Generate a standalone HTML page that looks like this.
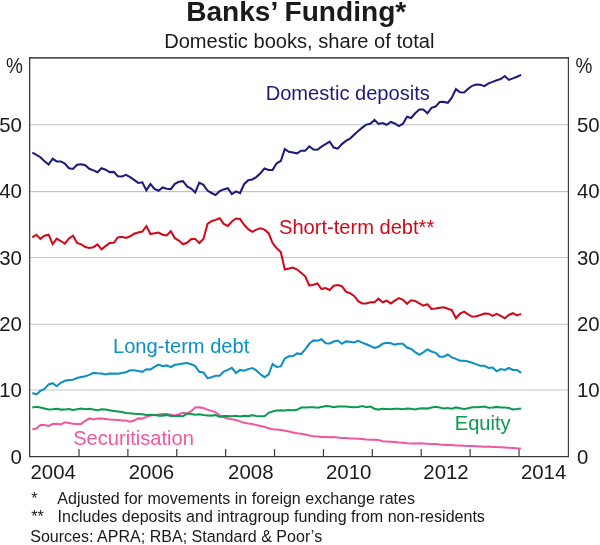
<!DOCTYPE html>
<html><head><meta charset="utf-8"><title>Banks’ Funding</title>
<style>html,body{margin:0;padding:0;background:#fff}body{width:600px;height:545px;overflow:hidden}svg{display:block}text{font-family:"Liberation Sans",sans-serif;fill:#1a1a1a}.ax{font-size:20.4px}.fn{font-size:16.06px}.lb{font-size:20.1px}</style></head><body>
<svg style="will-change:transform" width="600" height="545" viewBox="0 0 600 545">
<rect width="600" height="545" fill="#fff"/>
<line x1="29.8" x2="568.2" y1="124.7" y2="124.7" stroke="#c2c4c6" stroke-width="1.1"/>
<line x1="29.8" x2="568.2" y1="191.6" y2="191.6" stroke="#c2c4c6" stroke-width="1.1"/>
<line x1="29.8" x2="568.2" y1="257.45" y2="257.45" stroke="#c2c4c6" stroke-width="1.1"/>
<line x1="29.8" x2="568.2" y1="324.25" y2="324.25" stroke="#c2c4c6" stroke-width="1.1"/>
<line x1="29.8" x2="568.2" y1="390.0" y2="390.0" stroke="#c2c4c6" stroke-width="1.1"/>
<line x1="78.99" x2="78.99" y1="449.1" y2="456.6" stroke="#3b3939" stroke-width="1.2"/>
<line x1="127.88" x2="127.88" y1="449.1" y2="456.6" stroke="#3b3939" stroke-width="1.2"/>
<line x1="176.77" x2="176.77" y1="449.1" y2="456.6" stroke="#3b3939" stroke-width="1.2"/>
<line x1="225.66" x2="225.66" y1="449.1" y2="456.6" stroke="#3b3939" stroke-width="1.2"/>
<line x1="274.55" x2="274.55" y1="449.1" y2="456.6" stroke="#3b3939" stroke-width="1.2"/>
<line x1="323.44" x2="323.44" y1="449.1" y2="456.6" stroke="#3b3939" stroke-width="1.2"/>
<line x1="372.33" x2="372.33" y1="449.1" y2="456.6" stroke="#3b3939" stroke-width="1.2"/>
<line x1="421.22" x2="421.22" y1="449.1" y2="456.6" stroke="#3b3939" stroke-width="1.2"/>
<line x1="470.11" x2="470.11" y1="449.1" y2="456.6" stroke="#3b3939" stroke-width="1.2"/>
<line x1="519.00" x2="519.00" y1="449.1" y2="456.6" stroke="#3b3939" stroke-width="1.2"/>
<polyline fill="none" stroke="#f0579f" stroke-width="2.05" stroke-linejoin="miter" stroke-miterlimit="2.5" stroke-linecap="butt" points="32.3,429.3 36.4,428.5 40.4,424.9 44.5,424.9 48.6,426.0 52.7,424.1 56.7,423.8 60.8,424.5 64.9,422.3 69.0,423.0 73.0,423.8 77.1,423.9 81.2,423.9 85.3,420.8 89.3,418.4 93.4,419.4 97.5,418.6 101.5,418.6 105.6,419.0 109.7,419.4 113.8,419.7 117.8,420.1 121.9,420.5 126.0,420.6 130.1,421.8 134.1,420.5 138.2,418.4 142.3,418.7 146.4,416.9 150.4,415.6 154.5,414.9 158.6,414.5 162.6,414.1 166.7,414.0 170.8,414.7 174.9,415.4 178.9,414.3 183.0,412.9 187.1,413.4 191.2,411.2 195.2,407.6 199.3,407.4 203.4,408.1 207.5,409.6 211.5,410.9 215.6,412.3 219.7,415.4 223.7,417.2 227.8,418.4 231.9,419.3 236.0,420.0 240.0,421.4 244.1,422.7 248.2,423.6 252.3,424.1 256.3,425.1 260.4,426.0 264.5,427.1 268.6,428.2 272.6,429.3 276.7,429.4 280.8,430.0 284.8,430.7 288.9,431.6 293.0,432.4 297.1,433.3 301.1,433.7 305.2,434.6 309.3,435.5 313.4,436.2 317.4,436.6 321.5,437.0 325.6,437.1 329.7,437.2 333.7,437.1 337.8,437.5 341.9,437.9 345.9,438.1 350.0,438.4 354.1,438.6 358.2,438.8 362.2,439.0 366.3,439.4 370.4,439.7 374.5,439.7 378.5,440.1 382.6,441.2 386.7,441.4 390.8,441.7 394.8,442.1 398.9,442.5 403.0,442.8 407.0,443.2 411.1,443.4 415.2,443.4 419.3,443.2 423.3,443.4 427.4,443.8 431.5,444.0 435.6,444.0 439.6,444.5 443.7,444.7 447.8,444.9 451.8,445.0 455.9,445.4 460.0,445.6 464.1,445.8 468.1,445.9 472.2,446.1 476.3,446.3 480.4,446.5 484.4,446.7 488.5,446.5 492.6,446.9 496.7,447.1 500.7,447.2 504.8,447.4 508.9,447.8 512.9,448.0 517.0,448.3 521.1,448.5"/>
<polyline fill="none" stroke="#0b9a50" stroke-width="2.05" stroke-linejoin="miter" stroke-miterlimit="2.5" stroke-linecap="butt" points="32.3,407.4 36.4,406.8 40.4,407.4 44.5,408.5 48.6,409.4 52.7,409.2 56.7,408.8 60.8,409.6 64.9,409.4 69.0,409.0 73.0,409.9 77.1,409.2 81.2,408.5 85.3,409.2 89.3,408.8 93.4,409.4 97.5,410.3 101.5,409.2 105.6,409.6 109.7,410.3 113.8,410.9 117.8,411.4 121.9,412.1 126.0,412.9 130.1,413.2 134.1,413.8 138.2,414.0 142.3,414.3 146.4,414.9 150.4,414.7 154.5,415.1 158.6,415.6 162.6,415.6 166.7,414.9 170.8,416.0 174.9,416.0 178.9,416.0 183.0,416.2 187.1,413.6 191.2,414.1 195.2,414.7 199.3,414.3 203.4,414.9 207.5,415.4 211.5,415.6 215.6,415.1 219.7,416.9 223.7,416.1 227.8,416.1 231.9,416.3 236.0,415.8 240.0,416.4 244.1,415.7 248.2,416.1 252.3,415.3 256.3,415.9 260.4,416.2 264.5,416.2 268.6,412.8 272.6,411.5 276.7,410.4 280.8,410.2 284.8,410.4 288.9,410.0 293.0,410.2 297.1,409.8 301.1,407.6 305.2,407.4 309.3,407.3 313.4,407.3 317.4,407.8 321.5,406.9 325.6,406.0 329.7,406.2 333.7,407.3 337.8,406.5 341.9,406.5 345.9,406.5 350.0,406.9 354.1,407.3 358.2,406.9 362.2,406.0 366.3,407.3 370.4,406.5 374.5,408.7 378.5,409.6 382.6,408.7 386.7,408.9 390.8,409.3 394.8,408.7 398.9,408.7 403.0,409.3 407.0,408.6 411.1,408.7 415.2,409.5 419.3,408.6 423.3,408.4 427.4,408.6 431.5,407.6 435.6,406.7 439.6,407.6 443.7,408.4 447.8,408.0 451.8,408.7 455.9,407.4 460.0,408.2 464.1,408.9 468.1,408.2 472.2,407.3 476.3,407.3 480.4,406.9 484.4,406.5 488.5,407.8 492.6,407.4 496.7,406.9 500.7,407.4 504.8,407.4 508.9,408.0 512.9,409.5 517.0,409.1 521.1,408.4"/>
<polyline fill="none" stroke="#0b90bf" stroke-width="2.05" stroke-linejoin="miter" stroke-miterlimit="2.5" stroke-linecap="butt" points="32.3,393.1 36.4,394.4 40.4,390.9 44.5,389.0 48.6,384.4 52.7,383.2 56.7,386.3 60.8,382.8 64.9,380.8 69.0,379.9 73.0,379.7 77.1,378.0 81.2,376.9 85.3,376.2 89.3,374.9 93.4,372.9 97.5,373.3 101.5,373.6 105.6,374.4 109.7,373.6 113.8,373.6 117.8,373.8 121.9,372.9 126.0,372.2 130.1,370.3 134.1,370.3 138.2,371.1 142.3,371.8 146.4,369.2 150.4,369.4 154.5,366.9 158.6,364.6 162.6,366.3 166.7,365.4 170.8,367.2 174.9,364.8 178.9,364.3 183.0,363.4 187.1,363.0 191.2,364.3 195.2,366.1 199.3,371.8 203.4,372.4 207.5,378.2 211.5,377.3 215.6,375.8 219.7,375.8 223.7,371.6 227.8,369.9 231.9,367.8 236.0,373.1 240.0,369.9 244.1,370.8 248.2,369.1 252.3,368.0 256.3,370.4 260.4,374.3 264.5,377.2 268.6,374.6 272.6,364.0 276.7,366.9 280.8,366.4 284.8,358.5 288.9,356.3 293.0,356.1 297.1,353.4 301.1,354.1 305.2,349.3 309.3,343.8 313.4,340.4 317.4,340.7 321.5,339.2 325.6,343.3 329.7,343.4 333.7,341.5 337.8,340.5 341.9,343.8 345.9,341.4 350.0,341.8 354.1,342.4 358.2,340.9 362.2,342.6 366.3,344.2 370.4,346.0 374.5,347.9 378.5,346.8 382.6,343.8 386.7,342.7 390.8,343.3 394.8,344.6 398.9,343.8 403.0,343.8 407.0,347.5 411.1,349.0 415.2,352.1 419.3,354.8 423.3,352.4 427.4,349.5 431.5,351.5 435.6,352.8 439.6,356.7 443.7,356.7 447.8,354.5 451.8,357.4 455.9,358.9 460.0,360.7 464.1,360.7 468.1,361.4 472.2,362.7 476.3,364.4 480.4,365.8 484.4,365.8 488.5,367.9 492.6,367.5 496.7,371.3 500.7,369.1 504.8,369.9 508.9,368.0 512.9,369.9 517.0,369.9 521.1,372.8"/>
<polyline fill="none" stroke="#d00a1a" stroke-width="2.05" stroke-linejoin="miter" stroke-miterlimit="2.5" stroke-linecap="butt" points="32.3,237.3 36.4,234.7 40.4,238.9 44.5,235.8 48.6,234.7 52.7,244.1 56.7,238.6 60.8,241.0 64.9,243.7 69.0,238.4 73.0,235.7 77.1,243.0 81.2,244.4 85.3,247.0 89.3,247.9 93.4,247.2 97.5,244.4 101.5,249.4 105.6,246.1 109.7,243.0 113.8,242.8 117.8,237.5 121.9,236.8 126.0,238.0 130.1,236.3 134.1,233.8 138.2,232.5 142.3,231.6 146.4,226.1 150.4,234.0 154.5,233.3 158.6,232.5 162.6,234.7 166.7,235.5 170.8,231.2 174.9,238.2 178.9,240.6 183.0,244.3 187.1,242.8 191.2,238.9 195.2,238.9 199.3,243.0 203.4,238.9 207.5,223.9 211.5,221.2 215.6,219.9 219.7,218.2 223.7,223.9 227.8,226.0 231.9,221.5 236.0,218.5 240.0,218.9 244.1,224.8 248.2,229.2 252.3,231.8 256.3,229.6 260.4,228.3 264.5,229.6 268.6,233.1 272.6,243.1 276.7,248.3 280.8,252.1 284.8,269.5 288.9,268.6 293.0,267.5 297.1,269.5 301.1,272.8 305.2,276.3 309.3,285.5 313.4,284.8 317.4,283.5 321.5,289.0 325.6,288.0 329.7,289.9 333.7,285.7 337.8,285.1 341.9,286.2 345.9,291.7 350.0,293.2 354.1,295.9 358.2,301.1 362.2,303.4 366.3,303.4 370.4,302.3 374.5,302.3 378.5,298.7 382.6,302.3 386.7,300.7 390.8,303.4 394.8,300.7 398.9,298.1 403.0,299.8 407.0,303.8 411.1,300.3 415.2,300.9 419.3,303.4 423.3,305.7 427.4,304.2 431.5,308.9 435.6,308.6 439.6,307.7 443.7,307.3 447.8,308.8 451.8,310.2 455.9,318.3 460.0,313.7 464.1,311.7 468.1,314.3 472.2,316.8 476.3,316.3 480.4,315.0 484.4,313.5 488.5,313.7 492.6,315.9 496.7,313.9 500.7,315.9 504.8,318.3 508.9,315.0 512.9,313.2 517.0,315.4 521.1,313.9"/>
<polyline fill="none" stroke="#1d1b79" stroke-width="2.05" stroke-linejoin="miter" stroke-miterlimit="2.5" stroke-linecap="butt" points="32.3,152.6 36.4,154.8 40.4,157.2 44.5,161.2 48.6,164.6 52.7,158.7 56.7,161.4 60.8,161.4 64.9,163.6 69.0,168.2 73.0,168.9 77.1,164.7 81.2,164.2 85.3,165.3 89.3,168.8 93.4,170.4 97.5,172.2 101.5,168.2 105.6,169.7 109.7,172.1 113.8,171.9 117.8,176.3 121.9,176.5 126.0,174.8 130.1,177.2 134.1,179.9 138.2,182.9 142.3,182.3 146.4,190.4 150.4,184.0 154.5,188.9 158.6,190.8 162.6,187.5 166.7,188.8 170.8,189.1 174.9,183.8 178.9,181.8 183.0,181.2 187.1,186.4 191.2,188.6 195.2,192.4 199.3,182.7 203.4,184.9 207.5,190.6 211.5,193.0 215.6,195.0 219.7,191.1 223.7,189.4 227.8,188.2 231.9,194.2 236.0,191.4 240.0,193.1 244.1,184.2 248.2,180.2 252.3,179.5 256.3,177.1 260.4,173.2 264.5,168.5 268.6,169.9 272.6,169.9 276.7,163.3 280.8,161.0 284.8,149.1 288.9,151.8 293.0,152.5 297.1,153.3 301.1,150.7 305.2,150.7 309.3,146.3 313.4,149.6 317.4,149.8 321.5,146.7 325.6,144.2 329.7,141.6 333.7,147.5 337.8,148.7 341.9,144.1 345.9,140.9 350.0,138.6 354.1,134.7 358.2,130.9 362.2,127.6 366.3,124.6 370.4,123.7 374.5,119.9 378.5,123.9 382.6,123.0 386.7,124.8 390.8,121.9 394.8,123.5 398.9,126.1 403.0,123.7 407.0,116.8 411.1,118.0 415.2,113.3 419.3,109.4 423.3,109.4 427.4,113.3 431.5,107.8 435.6,106.6 439.6,102.1 443.7,101.9 447.8,102.8 451.8,97.7 455.9,89.1 460.0,92.2 464.1,92.5 468.1,88.9 472.2,85.8 476.3,84.5 480.4,84.8 484.4,86.1 488.5,83.4 492.6,81.9 496.7,80.2 500.7,79.0 504.8,76.0 508.9,79.9 512.9,78.4 517.0,76.8 521.1,74.9"/>
<line x1="29.0" x2="569.0" y1="57.9" y2="57.9" stroke="#545151" stroke-width="1.7"/>
<line x1="29.0" x2="569.0" y1="456.5" y2="456.5" stroke="#3b3939" stroke-width="1.25"/>
<line x1="29.65" x2="29.65" y1="57.1" y2="457.1" stroke="#3b3939" stroke-width="1.25"/>
<line x1="568.4" x2="568.4" y1="57.1" y2="457.1" stroke="#3b3939" stroke-width="1.15"/>
<text x="296.2" y="20.6" text-anchor="middle" font-size="28.1" font-weight="bold">Banks’ Funding*</text>
<text x="299.3" y="47.6" text-anchor="middle" font-size="20.1">Domestic books, share of total</text>
<text class="ax" transform="translate(22.8,73.1) scale(0.93,1.103)" text-anchor="end">%</text>
<text class="ax" transform="translate(575.5,73.1) scale(0.93,1.103)">%</text>
<text class="ax" x="21.9" y="131.9" text-anchor="end">50</text>
<text class="ax" x="577" y="131.9">50</text>
<text class="ax" x="21.9" y="198.4" text-anchor="end">40</text>
<text class="ax" x="577" y="198.4">40</text>
<text class="ax" x="21.9" y="264.7" text-anchor="end">30</text>
<text class="ax" x="577" y="264.7">30</text>
<text class="ax" x="21.9" y="331.3" text-anchor="end">20</text>
<text class="ax" x="577" y="331.3">20</text>
<text class="ax" x="21.9" y="397.2" text-anchor="end">10</text>
<text class="ax" x="577" y="397.2">10</text>
<text class="ax" x="21.9" y="463.9" text-anchor="end">0</text>
<text class="ax" x="577" y="463.9">0</text>
<text class="ax" x="53.2" y="479.15" text-anchor="middle">2004</text>
<text class="ax" x="151.4" y="479.15" text-anchor="middle">2006</text>
<text class="ax" x="250.8" y="479.15" text-anchor="middle">2008</text>
<text class="ax" x="348.7" y="479.15" text-anchor="middle">2010</text>
<text class="ax" x="446.0" y="479.15" text-anchor="middle">2012</text>
<text class="ax" x="543.6" y="479.15" text-anchor="middle">2014</text>
<text class="lb" x="265.7" y="99.8" style="fill:#1d1b79">Domestic deposits</text>
<text class="lb" x="279" y="233.5" style="fill:#d00a1a">Short-term debt**</text>
<text class="lb" x="113" y="353.3" style="fill:#0b90bf">Long-term debt</text>
<text class="lb" x="73.2" y="444.5" style="fill:#f0579f">Securitisation</text>
<text class="lb" x="454.8" y="430" style="fill:#0b9a50">Equity</text>
<text class="fn" x="31.3" y="504">*</text>
<text class="fn" x="57.3" y="504.4">Adjusted for movements in foreign exchange rates</text>
<text class="fn" x="31.3" y="522">**</text>
<text class="fn" x="57.6" y="522.4">Includes deposits and intragroup funding from non-residents</text>
<text class="fn" x="30.2" y="541.7">Sources: APRA; RBA; Standard &amp; Poor’s</text>
</svg></body></html>
